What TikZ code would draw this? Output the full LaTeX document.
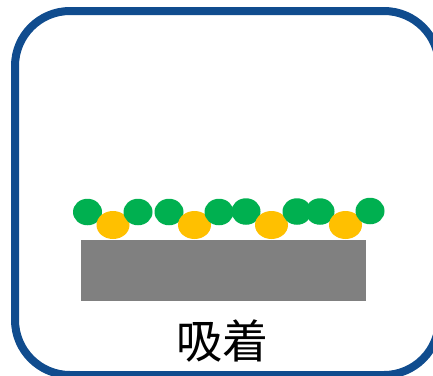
\documentclass[tikz,border=0pt]{standalone}
\usepackage{fontspec}
\newfontfamily\jpfont{Noto Sans CJK JP}
\usetikzlibrary{shapes.geometric}
\definecolor{frameblue}{RGB}{16,76,142}
\definecolor{molgreen}{RGB}{0,176,80}
\definecolor{molyellow}{RGB}{255,192,0}
\definecolor{slabgray}{RGB}{128,128,128}
\tikzset{
  frame/.style={draw=frameblue, line width=8pt, rounded corners=55pt},
  slab/.style={fill=slabgray, draw=none},
  greenmol/.style={ellipse, fill=molgreen, draw=none, inner sep=0pt,
                   minimum width=29pt, minimum height=26.5pt},
  yellowmol/.style={ellipse, fill=molyellow, draw=none, inner sep=0pt,
                    minimum width=33pt, minimum height=28pt},
  caption/.style={font=\jpfont\fontsize{46}{46}\selectfont, inner sep=0pt}
}
\begin{document}
\begin{tikzpicture}[x=1pt, y=-1pt]
  \useasboundingbox (0,0) rectangle (433,375);
  \clip (0,0) rectangle (433,375);
  \fill[white] (0,0) rectangle (433,375);
  % outer frame
  \draw[frame] (15,11) rectangle (439,375);
  % substrate
  \fill[slab] (81,240) rectangle (366,301);
  % adsorbed molecules, drawn left to right
  \node[greenmol]  (g1) at (87.5,212) {};
  \node[yellowmol] (y1) at (113,225) {};
  \node[greenmol]  (g2) at (138,212) {};
  \node[greenmol]  (g3) at (169,212) {};
  \node[yellowmol] (y2) at (194.5,225) {};
  \node[greenmol]  (g4) at (219,212) {};
  \node[greenmol]  (g5) at (246,211.5) {};
  \node[yellowmol] (y3) at (271.5,225) {};
  \node[greenmol]  (g6) at (297,211.5) {};
  \node[greenmol]  (g7) at (320,211.5) {};
  \node[yellowmol] (y4) at (345.5,225) {};
  \node[greenmol]  (g8) at (370,211) {};
  % label
  \node[caption] (lbl) at (222.5,341) {吸着};
\end{tikzpicture}
\end{document}
